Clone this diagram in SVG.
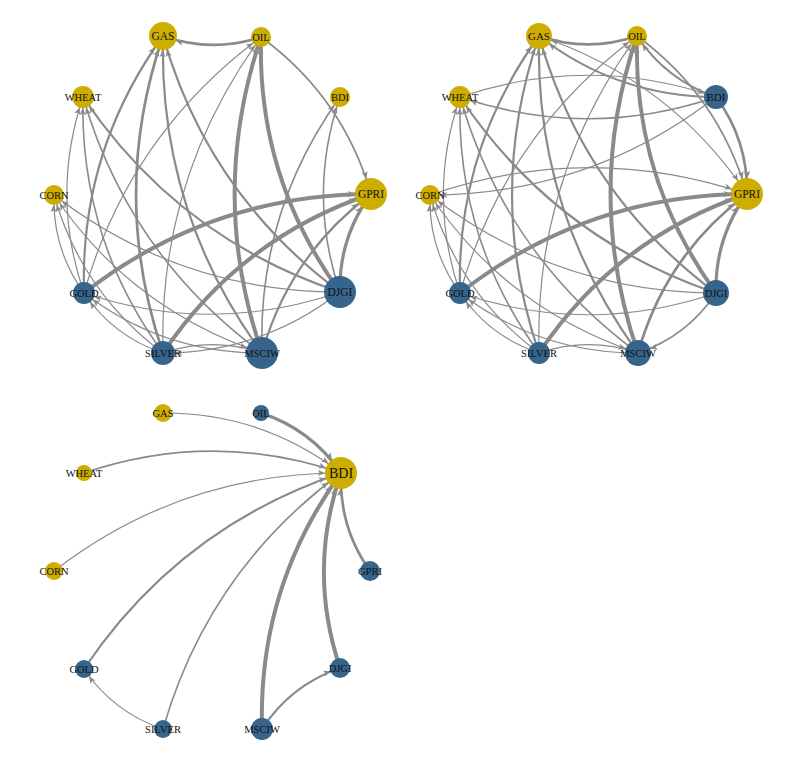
<svg xmlns="http://www.w3.org/2000/svg" width="785" height="759" viewBox="0 0 785 759">
<style>
.e{fill:none;stroke:#8a8a8a;stroke-linecap:round}
.t1{stroke-width:1.2}.t2{stroke-width:1.6}.t3{stroke-width:2.2}.t4{stroke-width:2.7}.t5{stroke-width:3.2}.t6{stroke-width:4}
.y{fill:#CDAD00}.b{fill:#36648B}
text{font-family:"Liberation Serif","Times New Roman",serif;font-size:10.5px;fill:#111;text-anchor:middle}
</style>
<defs>
<marker id="m9" markerUnits="userSpaceOnUse" orient="auto" overflow="visible" markerWidth="1" markerHeight="1"><path d="M-9,0L-16,-3L-14.5,0L-16,3Z" fill="#8a8a8a"/></marker>
<marker id="m10" markerUnits="userSpaceOnUse" orient="auto" overflow="visible" markerWidth="1" markerHeight="1"><path d="M-10,0L-17,-3L-15.5,0L-17,3Z" fill="#8a8a8a"/></marker>
<marker id="m11" markerUnits="userSpaceOnUse" orient="auto" overflow="visible" markerWidth="1" markerHeight="1"><path d="M-11,0L-18,-3L-16.5,0L-18,3Z" fill="#8a8a8a"/></marker>
<marker id="m12" markerUnits="userSpaceOnUse" orient="auto" overflow="visible" markerWidth="1" markerHeight="1"><path d="M-12,0L-19,-3L-17.5,0L-19,3Z" fill="#8a8a8a"/></marker>
<marker id="m13" markerUnits="userSpaceOnUse" orient="auto" overflow="visible" markerWidth="1" markerHeight="1"><path d="M-13,0L-20,-3L-18.5,0L-20,3Z" fill="#8a8a8a"/></marker>
<marker id="m14" markerUnits="userSpaceOnUse" orient="auto" overflow="visible" markerWidth="1" markerHeight="1"><path d="M-14,0L-21,-3L-19.5,0L-21,3Z" fill="#8a8a8a"/></marker>
<marker id="m16" markerUnits="userSpaceOnUse" orient="auto" overflow="visible" markerWidth="1" markerHeight="1"><path d="M-16,0L-23,-3L-21.5,0L-23,3Z" fill="#8a8a8a"/></marker>
</defs>

<g id="connectors-panel1">
<path class="e t4" marker-end="url(#m14)" d="M261,37Q211.8,53.2 163,36"/>
<path class="e t3" marker-end="url(#m14)" d="M84,293Q79.8,151.1 163,36"/>
<path class="e t4" marker-end="url(#m14)" d="M163,353Q109.1,194.5 163,36"/>
<path class="e t3" marker-end="url(#m14)" d="M262,353Q158.6,211.3 163,36"/>
<path class="e t3" marker-end="url(#m14)" d="M340,292Q208,194 163,36"/>
<path class="e t2" marker-end="url(#m16)" d="M261,37Q342.7,96.8 371,194"/>
<path class="e t2" marker-end="url(#m10)" d="M262,353Q257.5,211.7 340,97"/>
<path class="e t2" marker-end="url(#m10)" d="M340,292Q306.8,194.5 340,97"/>
<path class="e t6" marker-end="url(#m16)" d="M84,293Q210.7,194.7 371,194"/>
<path class="e t6" marker-end="url(#m16)" d="M163,353Q240,238.1 371,194"/>
<path class="e t5" marker-end="url(#m16)" d="M340,292Q338.8,237.7 371,194"/>
<path class="e t3" marker-end="url(#m16)" d="M262,353Q289.5,255 371,194"/>
<path class="e t6" marker-end="url(#m10)" d="M262,353Q207.8,195.2 261,37"/>
<path class="e t6" marker-end="url(#m10)" d="M340,292Q257.1,177.9 261,37"/>
<path class="e t1" marker-end="url(#m10)" d="M84,293Q129,135 261,37"/>
<path class="e t1" marker-end="url(#m10)" d="M163,353Q158.3,178.3 261,37"/>
<path class="e t1" marker-end="url(#m11)" d="M84,293Q50.2,195.2 83,97"/>
<path class="e t2" marker-end="url(#m11)" d="M163,353Q79.5,238.6 83,97"/>
<path class="e t3" marker-end="url(#m11)" d="M340,292Q178.3,238.2 83,97"/>
<path class="e t2" marker-end="url(#m11)" d="M262,353Q129,255.4 83,97"/>
<path class="e t1" marker-end="url(#m10)" d="M84,293Q52.3,249.1 54,195"/>
<path class="e t1" marker-end="url(#m10)" d="M163,353Q81.6,292.5 54,195"/>
<path class="e t1" marker-end="url(#m10)" d="M340,292Q180.5,292.1 54,195"/>
<path class="e t1" marker-end="url(#m10)" d="M262,353Q131.1,309.4 54,195"/>
<path class="e t1" marker-end="url(#m11)" d="M340,292Q212.2,336 84,293"/>
<path class="e t1" marker-end="url(#m11)" d="M262,353Q162.8,353.3 84,293"/>
<path class="e t1" marker-end="url(#m11)" d="M163,353Q113.3,336.4 84,293"/>
<path class="e t1" marker-end="url(#m12)" d="M340,292Q261.9,352.6 163,353"/>
<path class="e t1" marker-end="url(#m16)" d="M163,353Q212.5,336.2 262,353"/>
</g>

<g id="connectors-panel2">
<path class="e t4" marker-end="url(#m13)" d="M637,36Q588,52.7 539,36"/>
<path class="e t3" marker-end="url(#m13)" d="M460,293Q455.8,151.1 539,36"/>
<path class="e t3" marker-end="url(#m13)" d="M539,353Q485.1,194.5 539,36"/>
<path class="e t3" marker-end="url(#m13)" d="M638,353Q534.6,211.3 539,36"/>
<path class="e t3" marker-end="url(#m13)" d="M716,293Q583.8,194.6 539,36"/>
<path class="e t3" marker-end="url(#m13)" d="M716,97Q617.1,96.6 539,36"/>
<path class="e t2" marker-end="url(#m16)" d="M637,36Q718.9,96.3 747,194"/>
<path class="e t4" marker-end="url(#m16)" d="M716,97Q748,140.2 747,194"/>
<path class="e t6" marker-end="url(#m16)" d="M460,293Q586.7,194.7 747,194"/>
<path class="e t6" marker-end="url(#m16)" d="M539,353Q616,238.1 747,194"/>
<path class="e t5" marker-end="url(#m16)" d="M716,293Q714.7,238.2 747,194"/>
<path class="e t4" marker-end="url(#m16)" d="M638,353Q665.5,255 747,194"/>
<path class="e t6" marker-end="url(#m10)" d="M638,353Q583.6,194.7 637,36"/>
<path class="e t6" marker-end="url(#m10)" d="M716,293Q632.8,177.9 637,36"/>
<path class="e t1" marker-end="url(#m10)" d="M460,293Q504.8,134.4 637,36"/>
<path class="e t1" marker-end="url(#m10)" d="M539,353Q534.1,177.8 637,36"/>
<path class="e t3" marker-end="url(#m10)" d="M716,97Q666.1,79.9 637,36"/>
<path class="e t2" marker-end="url(#m11)" d="M716,97Q588,140.5 460,97"/>
<path class="e t1" marker-end="url(#m10)" d="M716,97Q589.7,194.6 430,195"/>
<path class="e t1" marker-end="url(#m11)" d="M460,293Q426.7,195 460,97"/>
<path class="e t2" marker-end="url(#m11)" d="M539,353Q456,238.4 460,97"/>
<path class="e t3" marker-end="url(#m11)" d="M716,293Q554.7,238.5 460,97"/>
<path class="e t2" marker-end="url(#m11)" d="M638,353Q505.5,255.3 460,97"/>
<path class="e t1" marker-end="url(#m10)" d="M460,293Q428.3,249.1 430,195"/>
<path class="e t1" marker-end="url(#m10)" d="M539,353Q457.6,292.5 430,195"/>
<path class="e t1" marker-end="url(#m10)" d="M716,293Q556.3,292.6 430,195"/>
<path class="e t1" marker-end="url(#m10)" d="M638,353Q507.1,309.4 430,195"/>
<path class="e t1" marker-end="url(#m11)" d="M716,293Q588,336.5 460,293"/>
<path class="e t1" marker-end="url(#m11)" d="M638,353Q538.8,353.3 460,293"/>
<path class="e t1" marker-end="url(#m11)" d="M539,353Q489.3,336.4 460,293"/>
<path class="e t2" marker-end="url(#m13)" d="M716,293Q687.2,336.3 638,353"/>
<path class="e t1" marker-end="url(#m16)" d="M430,195Q588.3,140.6 747,194"/>
<path class="e t1" marker-end="url(#m16)" d="M539,36Q669.9,79.6 747,194"/>
<path class="e t1" marker-end="url(#m12)" d="M460,97Q588,53.5 716,97"/>
<path class="e t1" marker-end="url(#m13)" d="M539,353Q588.5,336.2 638,353"/>
</g>

<g id="connectors-panel3">
<path class="e t1" marker-end="url(#m16)" d="M163,413Q262.2,412.7 341,473"/>
<path class="e t5" marker-end="url(#m16)" d="M261,413Q311.2,429.4 341,473"/>
<path class="e t2" marker-end="url(#m16)" d="M84,473Q212.5,429.3 341,473"/>
<path class="e t1" marker-end="url(#m16)" d="M54,571Q180.8,473.2 341,473"/>
<path class="e t3" marker-end="url(#m16)" d="M84,669Q179.2,527.3 341,473"/>
<path class="e t2" marker-end="url(#m16)" d="M163,729Q208.5,570.7 341,473"/>
<path class="e t1" marker-end="url(#m9)" d="M163,729Q113.3,712.4 84,669"/>
<path class="e t6" marker-end="url(#m16)" d="M262,729Q258,587.6 341,473"/>
<path class="e t3" marker-end="url(#m10)" d="M262,729Q290.6,685.2 340,668"/>
<path class="e t6" marker-end="url(#m16)" d="M340,668Q307.3,570.3 341,473"/>
<path class="e t4" marker-end="url(#m16)" d="M370,571Q338.8,526.9 341,473"/>
</g>

<g id="p1-GAS"><circle class="y" cx="163" cy="36" r="14"/><text x="163" y="40" style="font-size:11.5px">GAS</text></g>
<g id="p1-OIL"><circle class="y" cx="261" cy="37" r="10"/><text x="261" y="40.5">OIL</text></g>
<g id="p1-BDI"><circle class="y" cx="340" cy="97" r="10"/><text x="340" y="100.5">BDI</text></g>
<g id="p1-GPRI"><circle class="y" cx="371" cy="194" r="16"/><text x="371" y="198" style="font-size:11.5px">GPRI</text></g>
<g id="p1-DJGI"><circle class="b" cx="340" cy="292" r="16"/><text x="340" y="296" style="font-size:11.5px">DJGI</text></g>
<g id="p1-MSCIW"><circle class="b" cx="262" cy="353" r="16"/><text x="262" y="356.5">MSCIW</text></g>
<g id="p1-SILVER"><circle class="b" cx="163" cy="353" r="12"/><text x="163" y="356.5">SILVER</text></g>
<g id="p1-GOLD"><circle class="b" cx="84" cy="293" r="11"/><text x="84" y="296.5">GOLD</text></g>
<g id="p1-CORN"><circle class="y" cx="54" cy="195" r="10"/><text x="54" y="198.5">CORN</text></g>
<g id="p1-WHEAT"><circle class="y" cx="83" cy="97" r="11"/><text x="83" y="100.5">WHEAT</text></g>

<g id="p2-GAS"><circle class="y" cx="539" cy="36" r="13"/><text x="539" y="40" style="font-size:11px">GAS</text></g>
<g id="p2-OIL"><circle class="y" cx="637" cy="36" r="10"/><text x="637" y="39.5">OIL</text></g>
<g id="p2-BDI"><circle class="b" cx="716" cy="97" r="12"/><text x="716" y="101" style="font-size:11px">BDI</text></g>
<g id="p2-GPRI"><circle class="y" cx="747" cy="194" r="16"/><text x="747" y="198" style="font-size:11.5px">GPRI</text></g>
<g id="p2-DJGI"><circle class="b" cx="716" cy="293" r="13"/><text x="716" y="296.5">DJGI</text></g>
<g id="p2-MSCIW"><circle class="b" cx="638" cy="353" r="13"/><text x="638" y="356.5">MSCIW</text></g>
<g id="p2-SILVER"><circle class="b" cx="539" cy="353" r="11"/><text x="539" y="356.5">SILVER</text></g>
<g id="p2-GOLD"><circle class="b" cx="460" cy="293" r="11"/><text x="460" y="296.5">GOLD</text></g>
<g id="p2-CORN"><circle class="y" cx="430" cy="195" r="10"/><text x="430" y="198.5">CORN</text></g>
<g id="p2-WHEAT"><circle class="y" cx="460" cy="97" r="11"/><text x="460" y="100.5">WHEAT</text></g>

<g id="p3-GAS"><circle class="y" cx="163" cy="413" r="9"/><text x="163" y="416.5">GAS</text></g>
<g id="p3-OIL"><circle class="b" cx="261" cy="413" r="8"/><text x="261" y="416.5">OIL</text></g>
<g id="p3-BDI"><circle class="y" cx="341" cy="473" r="16"/><text x="341" y="478" style="font-size:14px">BDI</text></g>
<g id="p3-GPRI"><circle class="b" cx="370" cy="571" r="10"/><text x="370" y="574.5">GPRI</text></g>
<g id="p3-DJGI"><circle class="b" cx="340" cy="668" r="10"/><text x="340" y="671.5">DJGI</text></g>
<g id="p3-MSCIW"><circle class="b" cx="262" cy="729" r="11"/><text x="262" y="732.5">MSCIW</text></g>
<g id="p3-SILVER"><circle class="b" cx="163" cy="729" r="9"/><text x="163" y="732.5">SILVER</text></g>
<g id="p3-GOLD"><circle class="b" cx="84" cy="669" r="9"/><text x="84" y="672.5">GOLD</text></g>
<g id="p3-CORN"><circle class="y" cx="54" cy="571" r="9"/><text x="54" y="574.5">CORN</text></g>
<g id="p3-WHEAT"><circle class="y" cx="84" cy="473" r="8"/><text x="84" y="476.5">WHEAT</text></g>
</svg>
